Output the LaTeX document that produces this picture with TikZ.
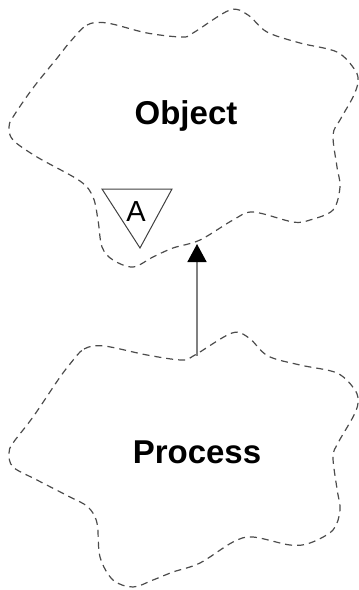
\documentclass[tikz,border=0pt]{standalone}
\usepackage{fontspec}
\setmainfont{Liberation Sans}
\usetikzlibrary{arrows.meta}
\tikzset{
  cloud outline/.style={draw=black!70, line width=1.2pt, dash pattern=on 7pt off 5pt},
  class label/.style={font=\fontsize{33}{37}\selectfont\bfseries, inner sep=0pt, anchor=center},
  abstract label/.style={font=\fontsize{29}{33}\selectfont, inner sep=0pt},
  inherit arrow/.style={draw=black!50, line width=1.6pt, -{Triangle[length=18pt,width=19pt,color=black]}},
  adorn/.style={draw=black!75, line width=1pt}
}
\begin{document}
\begin{tikzpicture}[x=1pt,y=-1pt]
\useasboundingbox (0,0) rectangle (359,590);
% top cloud (Object)
\draw[cloud outline] plot[smooth cycle, tension=0.55] coordinates {
(70,42) (87,25) (107,23) (147,33) (182,37) (193,33) (230,10) (248,15) (267,32) (300,43) (337,52) (355,70) (358,82) (353,97) (340,120) (333,135) (337,167) (340,187) (333,210) (310,220) (293,222) (253,212) (233,220) (200,240) (173,248) (153,257) (133,267) (113,260) (102,247) (98,220) (93,197) (80,181) (37,157) (13,140) (9,127) (13,117) (33,88) (58,57)};
% bottom cloud (Process)
\begin{scope}[yshift=-322pt]
\draw[cloud outline] plot[smooth cycle, tension=0.55] coordinates {
(70,42) (84,27) (104,24) (147,33) (182,38) (195,33) (232,11) (249,16) (268,34) (300,43) (337,51) (355,68) (358,81) (353,95) (338,121) (333,135) (337,167) (340,188) (333,208) (310,221) (290,223) (253,215) (233,220) (200,241) (173,250) (153,258) (133,265) (113,258) (100,235) (97,201) (88,185) (70,175) (37,158) (13,145) (9,131) (13,121) (33,95) (58,58)};
\end{scope}
\node[class label] (object) at (186,116) {Object};
\node[class label] (process) at (197,452) {Process};
% abstract adornment
\coordinate (tl) at (102,189);
\coordinate (tr) at (172,189);
\coordinate (ap) at (140,248);
\draw[adorn] (tl) -- (tr) -- (ap) -- cycle;
\node[abstract label] (abs) at (136,212) {A};
% inheritance arrow
\coordinate (from) at (197,356);
\coordinate (to) at (197,244);
\draw[inherit arrow] (from) -- (to);
\end{tikzpicture}
\end{document}
